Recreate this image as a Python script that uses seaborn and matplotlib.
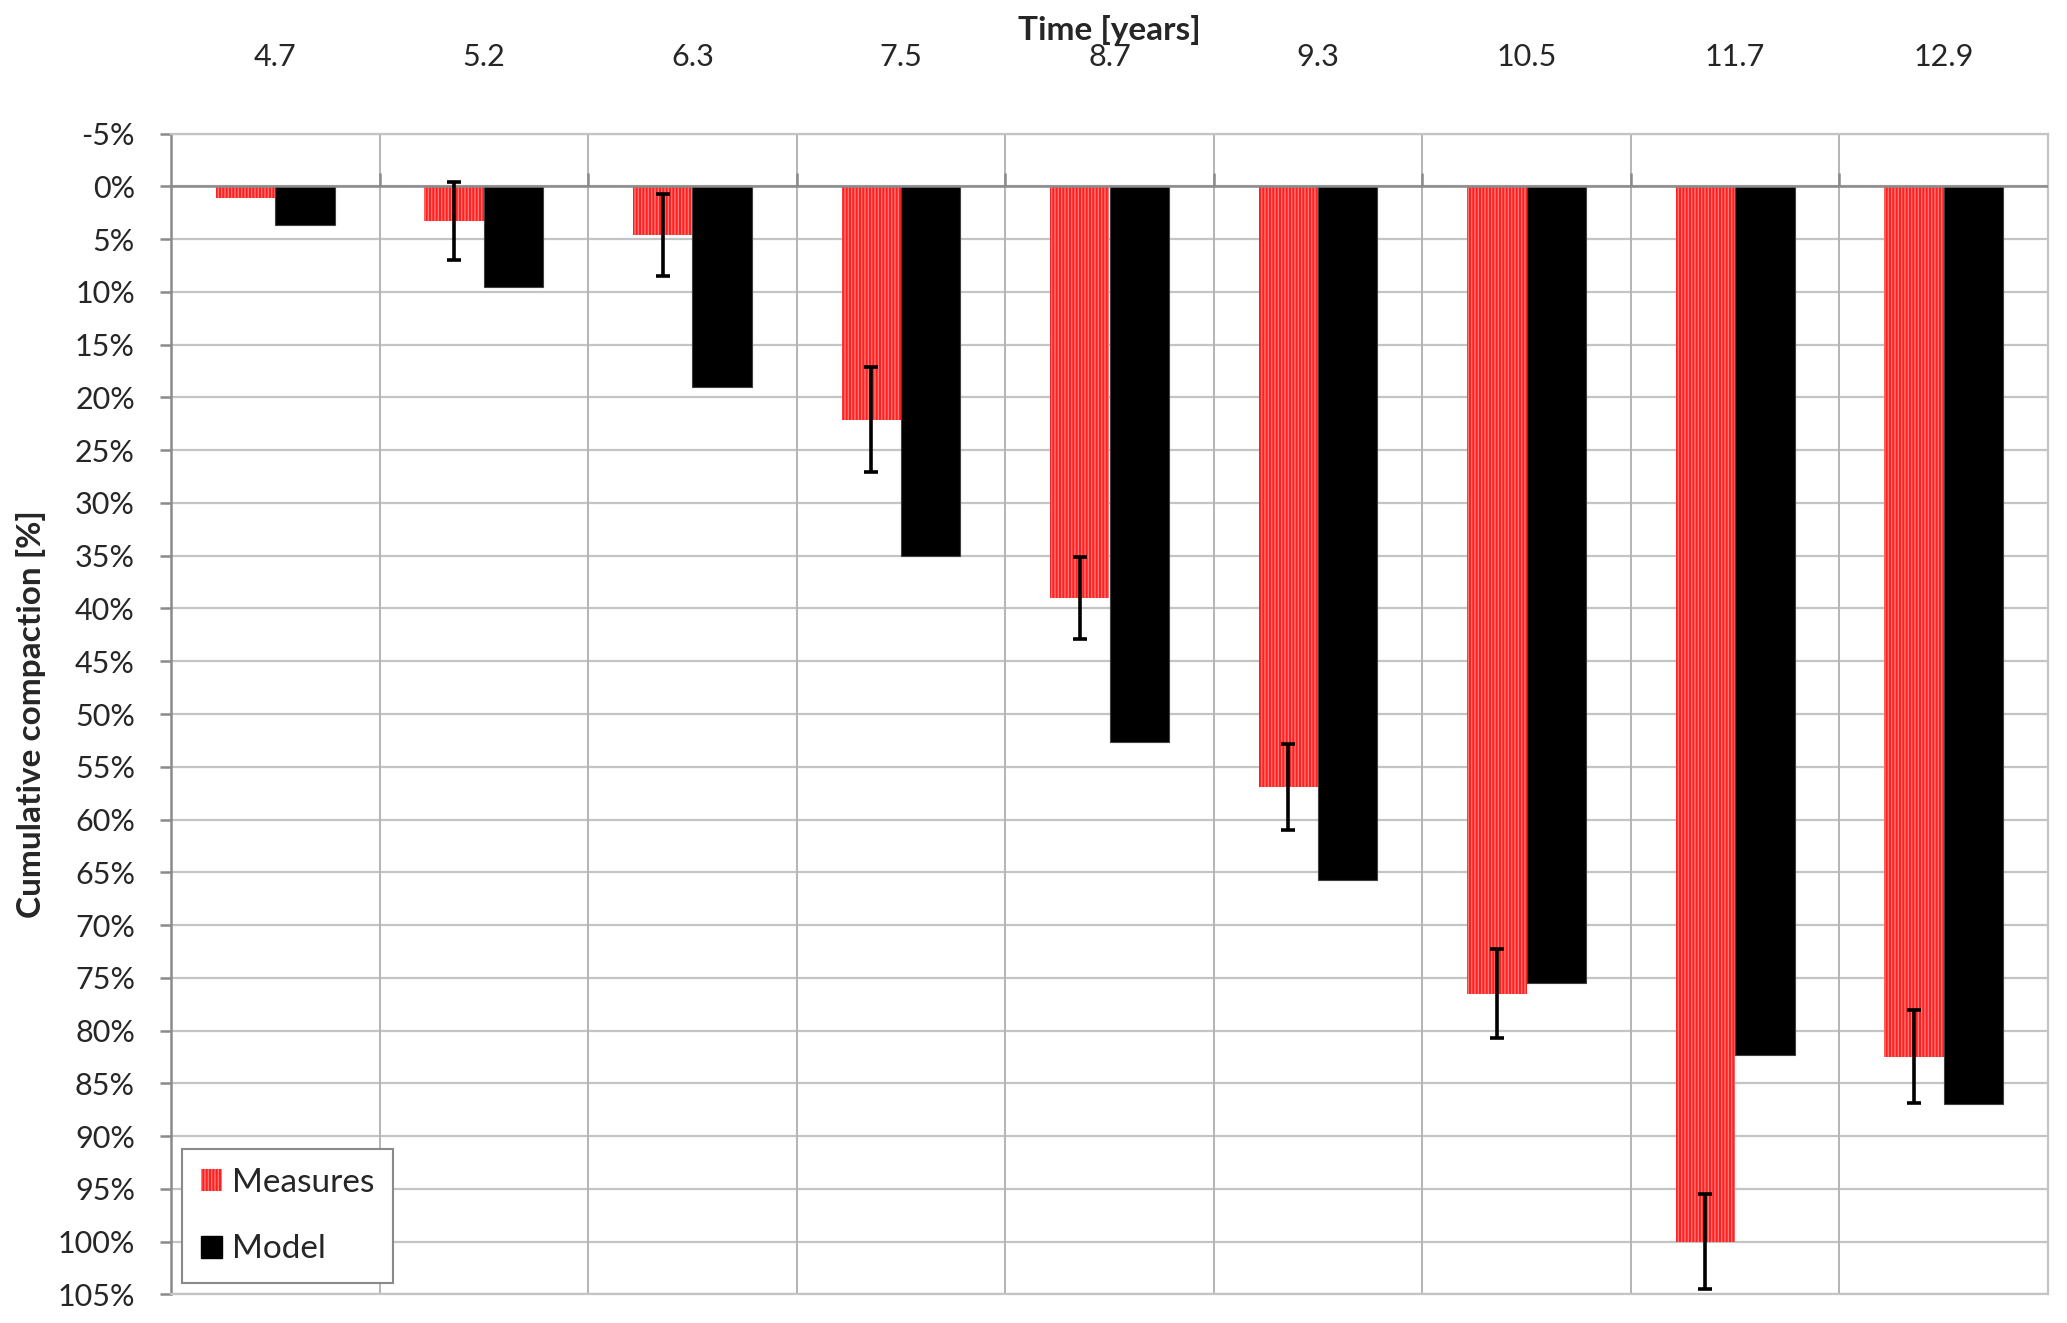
import numpy as np
import pandas as pd
import seaborn as sns
import matplotlib.pyplot as plt
from matplotlib.patches import Patch

# Data
years = ["4.7", "5.2", "6.3", "7.5", "8.7", "9.3", "10.5", "11.7", "12.9"]
measures = [1.1, 3.3, 4.6, 22.1, 39.0, 56.9, 76.5, 100.0, 82.5]
measures_err = [np.nan, 3.7, 3.9, 5.0, 3.9, 4.1, 4.2, 4.5, 4.4]
model = [3.7, 9.5, 19.0, 35.0, 52.7, 65.7, 75.5, 82.3, 87.0]
y_ticks = list(range(-5, 110, 5))

df = pd.DataFrame({
    "time": years * 2,
    "compaction": measures + model,
    "series": ["Measures"] * len(years) + ["Model"] * len(years),
})

sns.set_style("white")
plt.rcParams["font.family"] = ["Lato", "DejaVu Sans"]
plt.rcParams["hatch.linewidth"] = 0.9

W, H = 2067, 1323
fig = plt.figure(figsize=(W / 100, H / 100), dpi=100)
left, right, top, bottom = 171, 2048, 133.7, 1294.3
ax = fig.add_axes([left / W, 1 - bottom / H, (right - left) / W, (bottom - top) / H])

red = "#ff2020"
hatch_col = "#ff8080"
sns.barplot(data=df, x="time", y="compaction", hue="series", order=years,
            hue_order=["Measures", "Model"], palette=[red, "black"],
            width=0.57, errorbar=None, saturation=1, ax=ax, legend=False,
            zorder=3)

n = len(years)
for p in ax.patches[:n]:
    p.set_hatch("|||||")
    p.set_edgecolor(hatch_col)
    p.set_linewidth(0)
for p in ax.patches[n:2 * n]:
    p.set_edgecolor("#404040")
    p.set_linewidth(0.8)

# error bars centred on the Measures bars
red_x = [p.get_x() + p.get_width() / 2 for p in ax.patches[:n]]
ax.errorbar(red_x, measures, yerr=measures_err, fmt="none", ecolor="black",
            elinewidth=2.6, capsize=5, capthick=2.6, zorder=5)

ax.set_ylim(105, -5)
ax.set_xlim(-0.5, n - 0.5)
ax.set_yticks(y_ticks)
ax.set_yticklabels([f"{v}%" for v in y_ticks])

# grid
for v in y_ticks:
    ax.axhline(v, color="#c4c4c4", lw=1.6, zorder=1)
ax.axhline(0, color="#8a8a8a", lw=1.8, zorder=4)
for b in np.arange(0.5, n - 0.5, 1):
    ax.axvline(b, color="#b4b4b4", lw=1.4, zorder=1)
ax.vlines(np.arange(0.5, n - 0.5, 1), -1.3, 0, color="#8a8a8a", lw=1.8, zorder=4)

for s in ["top", "bottom", "right"]:
    ax.spines[s].set_color("#c4c4c4")
    ax.spines[s].set_linewidth(1.6)
ax.spines["left"].set_color("#8a8a8a")
ax.spines["left"].set_linewidth(1.8)

ax.xaxis.tick_top()
ax.xaxis.set_label_position("top")
ax.tick_params(axis="x", length=0, pad=45, labelsize=22)
ax.tick_params(axis="y", left=True, length=8, width=1.8, color="#8a8a8a",
               pad=18, labelsize=22)
ax.set_xlabel("Time [years]", fontsize=24, fontweight="bold", labelpad=2)
ax.set_ylabel("Cumulative compaction [%]", fontsize=24, fontweight="bold",
              labelpad=8)

handles = [Patch(facecolor=red, edgecolor=hatch_col, hatch="|||||", lw=0,
                 label="Measures"),
           Patch(facecolor="black", edgecolor="black", label="Model")]
leg = ax.legend(handles=handles, loc="lower left",
                bbox_to_anchor=(0.006, 0.01), fontsize=24, frameon=True,
                fancybox=False, edgecolor="#8a8a8a", framealpha=1,
                handlelength=0.65, handleheight=0.65, handletextpad=0.3,
                labelspacing=1.1, borderpad=0.55, borderaxespad=0)
leg.get_frame().set_linewidth(1.5)
leg.set_zorder(6)

fig.savefig("out.png", dpi=100)
